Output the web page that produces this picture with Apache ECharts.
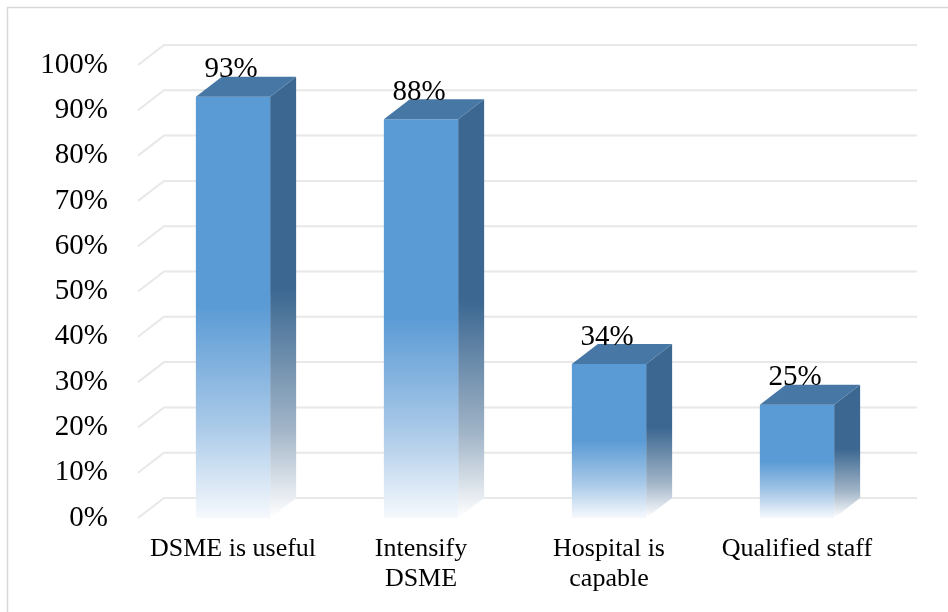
<!DOCTYPE html>
<html>
<head>
<meta charset="utf-8">
<title>DSME</title>
<script src="https://cdn.jsdelivr.net/npm/echarts@6/dist/echarts.min.js"></script>
<style>
	html, body { margin: 0; padding: 0; background: #ffffff; }
	#chart { width: 948px; height: 612px; }
</style>
</head>
<body>
<div id="chart"></div>
<script>
var categories = ["DSME is useful", "Intensify\nDSME", "Hospital is\ncapable", "Qualified staff"];
var percentValues = [93, 88, 34, 25];
var yTicks = [0, 10, 20, 30, 40, 50, 60, 70, 80, 90, 100];

(function(window)
{
	var FONT = "'Liberation Serif', 'Times New Roman', serif";
	
	//3D纵深偏移
	var DEPTH_X = 26;
	var DEPTH_Y = -20;
	var BAR_RATIO = 0.395;
	
	var chart = echarts.init(document.getElementById("chart"));
	
	/**
	 * 背景网格线（后墙 + 左侧斜线）。
	 */
	var renderGrid = function(params, api)
	{
		var cs = params.coordSys;
		var y = api.coord([0, api.value(1)])[1];
		
		return {
			type: "polyline",
			shape: { points: [[cs.x - 1, y], [cs.x + DEPTH_X - 1, y + DEPTH_Y], [cs.x + cs.width + DEPTH_X, y + DEPTH_Y]] },
			style: { stroke: "#e8e8e8", lineWidth: 2, fill: null },
			silent: true
		};
	};
	
	/**
	 * 3D柱子：正面、侧面、顶面和数值标签。
	 */
	var renderBar = function(params, api)
	{
		var top = api.coord([api.value(0), api.value(1)]);
		var base = api.coord([api.value(0), 0]);
		var w = api.size([1, 0])[0] * BAR_RATIO;
		var l = top[0] - w/2;
		var r = top[0] + w/2;
		
		var frontFill = new echarts.graphic.LinearGradient(0, 0, 0, 1, [
			{ offset: 0, color: "#5b9bd5" },
			{ offset: 0.5, color: "#5b9bd5" },
			{ offset: 0.78, color: "#a9c9e8" },
			{ offset: 1, color: "#f6f9fd" }
		]);
		var sideFill = new echarts.graphic.LinearGradient(0, 0, 0, 1, [
			{ offset: 0, color: "#3b6791" },
			{ offset: 0.48, color: "#3b6791" },
			{ offset: 0.8, color: "#a2b5c8" },
			{ offset: 1, color: "#ffffff" }
		]);
		
		return {
			type: "group",
			children: [
				{
					type: "polygon",
					shape: { points: [[r, top[1]], [r + DEPTH_X, top[1] + DEPTH_Y], [r + DEPTH_X, base[1] + DEPTH_Y], [r, base[1]]] },
					style: { fill: sideFill }
				},
				{
					type: "rect",
					shape: { x: l, y: top[1], width: w, height: base[1] - top[1] },
					style: { fill: frontFill }
				},
				{
					type: "polygon",
					shape: { points: [[l, top[1]], [l + DEPTH_X, top[1] + DEPTH_Y], [r + DEPTH_X, top[1] + DEPTH_Y], [r, top[1]]] },
					style: { fill: "#4777a5" }
				},
				{
					type: "text",
					x: top[0] - 2,
					y: top[1] - 27,
					style: {
						text: api.value(1) + "%",
						font: "29px " + FONT,
						fill: "#000000",
						align: "center",
						verticalAlign: "middle"
					}
				}
			]
		};
	};
	
	var gridData = [];
	for(var i=0; i<yTicks.length; i++)
		gridData.push([0, yTicks[i]]);
	
	var barData = [];
	for(var i=0; i<percentValues.length; i++)
		barData.push([i, percentValues[i]]);
	
	var option =
	{
		animation: false,
		graphic: [
			{
				type: "rect",
				shape: { x: 7.5, y: 7.5, width: 1000, height: 700 },
				style: { fill: null, stroke: "#d9d9d9", lineWidth: 1.5 },
				silent: true
			}
		],
		grid: { left: 139, right: 57, top: 65, bottom: 94 },
		xAxis:
		{
			type: "category",
			data: categories,
			axisLine: { show: false },
			axisTick: { show: false },
			axisLabel: { color: "#000000", fontFamily: FONT, fontSize: 26, lineHeight: 30, margin: 16, interval: 0 }
		},
		yAxis:
		{
			type: "value",
			min: 0,
			max: 100,
			interval: 10,
			axisLine: { show: false },
			axisTick: { show: false },
			splitLine: { show: false },
			axisLabel: { color: "#000000", fontFamily: FONT, fontSize: 29, margin: 31, formatter: "{value}%" }
		},
		series: [
			{
				type: "custom",
				renderItem: renderGrid,
				data: gridData,
				clip: false,
				silent: true,
				z: 1
			},
			{
				type: "custom",
				renderItem: renderBar,
				data: barData,
				clip: false,
				z: 2
			}
		]
	};
	
	chart.setOption(option);
})
(window);
</script>
</body>
</html>
